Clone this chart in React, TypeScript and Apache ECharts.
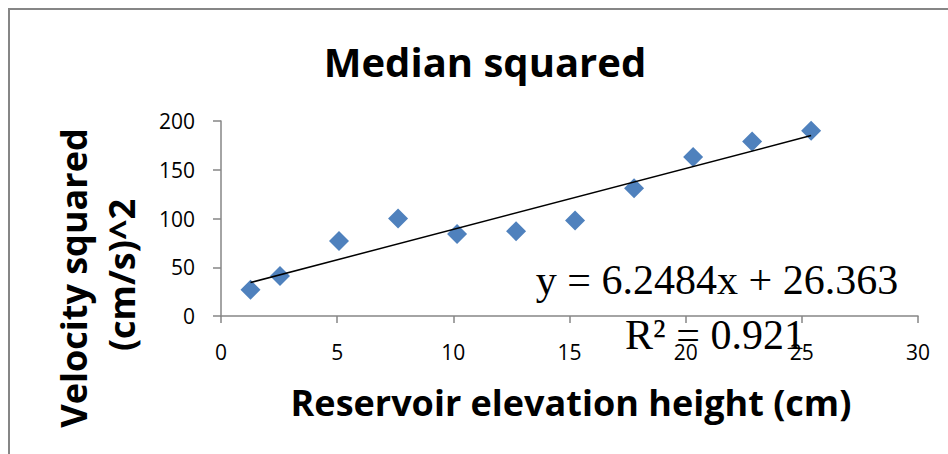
import React, { useEffect, useRef } from "react";
import * as echarts from "echarts";

const chartTitle = "Median squared";
const xAxisTitle = "Reservoir elevation height (cm)";
const yAxisTitleLines = ["Velocity squared", "(cm/s)^2"];

const xValues = [1.27, 2.54, 5.08, 7.62, 10.16, 12.7, 15.24, 17.78, 20.32, 22.86, 25.4];
const yValues = [27, 41, 77, 100, 84, 87, 98, 131, 163, 179, 190];

const trendSlope = 6.2484;
const trendIntercept = 26.363;
const trendXRange = [1.27, 25.4];
const equationText = "y = 6.2484x + 26.363";
const rSquaredText = "R² = 0.921";

const xMin = 0;
const xMax = 30;
const xStep = 5;
const yMin = 0;
const yMax = 200;
const yStep = 50;

const axisGray = "#868686";
const markerBlue = "#4F81BD";
const sansFont = "'Open Sans', 'Noto Sans', sans-serif";
const serifFont = "'Liberation Serif', 'DejaVu Serif', serif";

export default function App() {
  const ref = useRef<HTMLDivElement>(null);

  useEffect(() => {
    if (!ref.current) return;
    const chart = echarts.init(ref.current, null, { renderer: "svg" });

    const points = xValues.map((x, i) => [x, yValues[i]]);
    const trendPoints = trendXRange.map((x) => [x, trendSlope * x + trendIntercept]);

    chart.setOption({
      animation: false,
      backgroundColor: "#ffffff",
      grid: { left: 221, right: 30, top: 121, bottom: 138, containLabel: false },
      xAxis: {
        type: "value",
        min: xMin,
        max: xMax,
        interval: xStep,
        axisLine: { show: true, lineStyle: { color: axisGray, width: 1.5 } },
        axisTick: { show: true, length: 7, lineStyle: { color: axisGray, width: 1.5 } },
        axisLabel: { color: "#000", fontFamily: sansFont, fontSize: 21, margin: 25 },
        splitLine: { show: false },
      },
      yAxis: {
        type: "value",
        min: yMin,
        max: yMax,
        interval: yStep,
        axisLine: { show: true, lineStyle: { color: axisGray, width: 1.5 } },
        axisTick: { show: true, length: 8, lineStyle: { color: axisGray, width: 1.5 } },
        axisLabel: { color: "#000", fontFamily: sansFont, fontSize: 21, margin: 26 },
        splitLine: { show: false },
      },
      series: [
        {
          type: "scatter",
          data: points,
          symbol: "diamond",
          symbolSize: 20,
          itemStyle: { color: markerBlue, opacity: 1 },
          z: 3,
        },
        {
          type: "line",
          data: trendPoints,
          symbol: "none",
          lineStyle: { color: "#000", width: 1.5 },
          z: 4,
        },
      ],
      graphic: [
        {
          type: "rect",
          shape: { x: 9, y: 9, width: 1200, height: 1200 },
          style: { fill: "none", stroke: axisGray, lineWidth: 2 },
          silent: true,
        },
        {
          type: "text",
          x: 485,
          y: 61,
          style: {
            text: chartTitle,
            fontFamily: sansFont,
            fontWeight: "bold",
            fontSize: 40,
            fill: "#000",
            textAlign: "center",
            textVerticalAlign: "middle",
          },
        },
        {
          type: "text",
          x: 571,
          y: 402,
          style: {
            text: xAxisTitle,
            fontFamily: sansFont,
            fontWeight: "bold",
            fontSize: 36,
            fill: "#000",
            textAlign: "center",
            textVerticalAlign: "middle",
          },
        },
        {
          type: "text",
          x: 73,
          y: 278,
          rotation: Math.PI / 2,
          style: {
            text: yAxisTitleLines[0],
            fontFamily: sansFont,
            fontWeight: "bold",
            fontSize: 36,
            fill: "#000",
            textAlign: "center",
            textVerticalAlign: "middle",
          },
        },
        {
          type: "text",
          x: 121,
          y: 275,
          rotation: Math.PI / 2,
          style: {
            text: yAxisTitleLines[1],
            fontFamily: sansFont,
            fontWeight: "bold",
            fontSize: 36,
            fill: "#000",
            textAlign: "center",
            textVerticalAlign: "middle",
          },
        },
        {
          type: "text",
          x: 717,
          y: 301,
          z: 10,
          style: {
            text: equationText,
            fontFamily: serifFont,
            fontSize: 42,
            fill: "#000",
            textAlign: "center",
            textVerticalAlign: "bottom",
          },
        },
        {
          type: "text",
          x: 715,
          y: 356,
          z: 10,
          style: {
            text: rSquaredText,
            fontFamily: serifFont,
            fontSize: 42,
            fill: "#000",
            textAlign: "center",
            textVerticalAlign: "bottom",
          },
        },
      ],
    });

    return () => chart.dispose();
  }, []);

  return (
    <div
      ref={ref}
      style={{ position: "fixed", left: 0, top: 0, width: 948, height: 454 }}
    />
  );
}
